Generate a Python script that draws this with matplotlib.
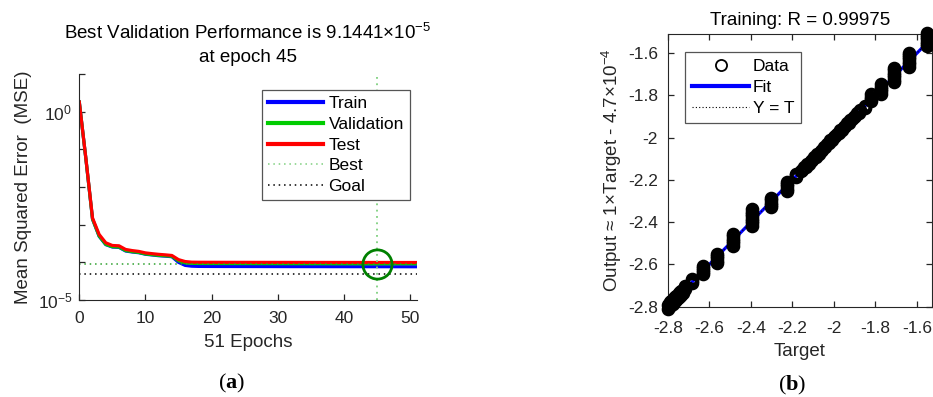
import matplotlib
matplotlib.use('Agg')
import matplotlib.pyplot as plt
from matplotlib.lines import Line2D

plt.rcParams['font.family'] = ['Liberation Sans', 'DejaVu Sans']
plt.rcParams['mathtext.fontset'] = 'custom'
plt.rcParams['mathtext.default'] = 'regular'
plt.rcParams['mathtext.rm'] = 'Liberation Sans'
plt.rcParams['mathtext.bf'] = 'Liberation Serif:bold'

# ---- performance curves (MSE per epoch) ----
epochs = list(range(52))
train_mse = [1.8, 5.5e-2, 1.4e-3, 4.9e-4, 2.95e-4, 2.55e-4, 2.5e-4, 2.0e-4, 1.88e-4, 1.8e-4,
             1.64e-4, 1.57e-4, 1.5e-4, 1.46e-4, 1.41e-4, 1.0e-4, 8.3e-5, 7.9e-5, 7.8e-5, 7.78e-5,
             7.77e-5, 7.76e-5, 7.75e-5, 7.75e-5, 7.74e-5, 7.74e-5, 7.73e-5, 7.73e-5, 7.72e-5, 7.72e-5,
             7.71e-5, 7.71e-5, 7.70e-5, 7.70e-5, 7.70e-5, 7.69e-5, 7.69e-5, 7.69e-5, 7.68e-5, 7.68e-5,
             7.68e-5, 7.67e-5, 7.67e-5, 7.67e-5, 7.66e-5, 7.66e-5, 7.66e-5, 7.65e-5, 7.65e-5, 7.65e-5,
             7.64e-5, 7.64e-5]
val_mse = [1.8, 5.5e-2, 1.4e-3, 5.0e-4, 3.0e-4, 2.6e-4, 2.55e-4, 2.05e-4, 1.92e-4, 1.83e-4,
           1.67e-4, 1.60e-4, 1.53e-4, 1.49e-4, 1.44e-4, 1.10e-4, 9.7e-5, 9.4e-5, 9.32e-5, 9.30e-5,
           9.29e-5, 9.28e-5, 9.27e-5, 9.26e-5, 9.25e-5, 9.25e-5, 9.24e-5, 9.23e-5, 9.22e-5, 9.22e-5,
           9.21e-5, 9.20e-5, 9.20e-5, 9.19e-5, 9.19e-5, 9.18e-5, 9.18e-5, 9.17e-5, 9.17e-5, 9.16e-5,
           9.16e-5, 9.155e-5, 9.152e-5, 9.149e-5, 9.146e-5, 9.1441e-5, 9.15e-5, 9.155e-5, 9.16e-5, 9.165e-5,
           9.17e-5, 9.175e-5]
test_mse = [1.8, 5.6e-2, 1.5e-3, 5.5e-4, 3.3e-4, 2.8e-4, 2.75e-4, 2.2e-4, 2.05e-4, 1.95e-4,
            1.78e-4, 1.70e-4, 1.63e-4, 1.58e-4, 1.52e-4, 1.18e-4, 1.05e-4, 1.01e-4, 1.005e-4, 1.003e-4,
            1.002e-4, 1.001e-4, 1.0e-4, 1.0e-4, 9.99e-5, 9.99e-5, 9.98e-5, 9.98e-5, 9.97e-5, 9.97e-5,
            9.96e-5, 9.96e-5, 9.95e-5, 9.95e-5, 9.95e-5, 9.94e-5, 9.94e-5, 9.94e-5, 9.93e-5, 9.93e-5,
            9.93e-5, 9.92e-5, 9.92e-5, 9.92e-5, 9.91e-5, 9.91e-5, 9.91e-5, 9.91e-5, 9.90e-5, 9.90e-5,
            9.90e-5, 9.90e-5]
best_epoch = 45
best_perf = 9.1441e-5
goal = 5e-5

# ---- regression (training set) ----
band_lo_t = [-2.800, -2.800, -2.794, -2.794, -2.788, -2.788, -2.782, -2.782, -2.776, -2.776,
             -2.770, -2.770, -2.764, -2.764, -2.758, -2.758, -2.752, -2.752, -2.746, -2.746,
             -2.740, -2.740, -2.734, -2.734, -2.728, -2.728]
band_lo_y = [-2.810, -2.792, -2.803, -2.785, -2.797, -2.779, -2.791, -2.773, -2.785, -2.767,
             -2.779, -2.761, -2.773, -2.755, -2.767, -2.749, -2.761, -2.743, -2.755, -2.737,
             -2.749, -2.731, -2.743, -2.725, -2.737, -2.719]
cluster_t = [-2.717, -2.681, -2.631, -2.564, -2.484, -2.392, -2.302, -2.227, -2.180,
             -1.850, -1.820, -1.772, -1.710, -1.640, -1.550]
cluster_y = [[-2.717, -2.708, -2.700],
             [-2.688, -2.678, -2.668],
             [-2.646, -2.636, -2.626, -2.616, -2.606],
             [-2.592, -2.582, -2.571, -2.561, -2.551],
             [-2.512, -2.500, -2.489, -2.478, -2.467, -2.456],
             [-2.418, -2.406, -2.395, -2.384, -2.372, -2.361, -2.350, -2.336],
             [-2.330, -2.318, -2.307, -2.296, -2.285],
             [-2.252, -2.241, -2.231, -2.221, -2.211],
             [-2.188, -2.179, -2.170],
             [-1.858, -1.848],
             [-1.826, -1.816, -1.806, -1.795],
             [-1.792, -1.781, -1.770, -1.759, -1.748],
             [-1.737, -1.725, -1.714, -1.703, -1.692, -1.680, -1.672],
             [-1.664, -1.652, -1.641, -1.630, -1.619, -1.608, -1.601],
             [-1.568, -1.557, -1.546, -1.535, -1.524, -1.513, -1.506]]
band_hi_t = [-2.160, -2.152, -2.144, -2.136, -2.128, -2.120, -2.112, -2.104, -2.096, -2.088,
             -2.080, -2.072, -2.064, -2.056, -2.048, -2.040, -2.032, -2.024, -2.016, -2.008,
             -2.000, -1.992, -1.984, -1.976, -1.968, -1.960, -1.952, -1.944, -1.936, -1.928,
             -1.920, -1.912, -1.904, -1.896, -1.888, -1.880, -1.872]
band_hi_y = [-2.156, -2.155, -2.141, -2.138, -2.124, -2.123, -2.109, -2.106, -2.093, -2.091,
             -2.076, -2.075, -2.061, -2.058, -2.044, -2.043, -2.029, -2.026, -2.012, -2.011,
             -1.996, -1.994, -1.981, -1.978, -1.964, -1.963, -1.949, -1.946, -1.932, -1.931,
             -1.917, -1.914, -1.900, -1.899, -1.884, -1.883, -1.868]
fit_slope = 1.0
fit_offset = -4.7e-4
r_value = 0.99975
ax_min, ax_max = -2.8, -1.515

W, H = 933, 397
fig = plt.figure(figsize=(W / 100, H / 100), dpi=100)

dark = '#262626'

# ---------- (a) performance ----------
ax1 = fig.add_axes([79.3 / W, 1 - 300 / H, 337.3 / W, 226 / H])
ax1.semilogy(epochs, train_mse, color='#0000ff', lw=2.3, label='Train')
ax1.semilogy(epochs, val_mse, color='#00cc00', lw=2.3, label='Validation')
ax1.semilogy(epochs, test_mse, color='#ff0000', lw=2.3, label='Test')
ax1.axvline(best_epoch, color='#7fd07f', ls=(0, (1, 2.5)), lw=1.3)
ax1.axhline(best_perf, color='#2ea02e', ls=(0, (1, 2.5)), lw=1.1)
ax1.axhline(goal, color='black', ls=(0, (1, 2.5)), lw=1.1)
ax1.plot([best_epoch], [best_perf], 'o', ms=21, mfc='none', mec='#008000', mew=2)
ax1.set_xlim(0, 51)
ax1.set_ylim(1e-5, 10)
ax1.set_xticks([0, 10, 20, 30, 40, 50])
dec = [1e-5, 1e-4, 1e-3, 1e-2, 1e-1, 1, 10]
ax1.set_yticks(dec)
ax1.set_yticklabels(['$10^{-5}$', '', '', '', '', '$10^{0}$', ''])
ax1.minorticks_off()
ax1.spines['top'].set_visible(False)
ax1.spines['right'].set_visible(False)
for s in ('left', 'bottom'):
    ax1.spines[s].set_color(dark)
ax1.tick_params(direction='in', length=4.5, width=0.9, colors=dark, labelsize=12.5)
ax1.tick_params(axis='x', pad=8)
ax1.tick_params(axis='y', pad=5)
ax1.set_xlabel('51 Epochs', fontsize=13.5, color=dark, labelpad=6)
ax1.set_ylabel('Mean Squared Error  (MSE)', fontsize=13.5, color=dark, labelpad=4)
ax1.set_title('Best Validation Performance is 9.1441\u00d710$^{-5}$\nat epoch 45',
              fontsize=13.5, linespacing=1.45, pad=9)
h1 = [Line2D([], [], color='#0000ff', lw=3),
      Line2D([], [], color='#00cc00', lw=3),
      Line2D([], [], color='#ff0000', lw=3),
      Line2D([], [], color='#7fd07f', ls=(0, (1, 2.5)), lw=1.1),
      Line2D([], [], color='black', ls=(0, (1, 2.5)), lw=1.1)]
leg1 = ax1.legend(h1, ['Train', 'Validation', 'Test', 'Best', 'Goal'],
                  loc='upper left', bbox_to_anchor=(0.541, 0.929), borderaxespad=0,
                  fontsize=12.5, handlelength=3.2, handletextpad=0.3, labelspacing=0.32,
                  borderpad=0.35, fancybox=False, framealpha=1, edgecolor='#555555')
leg1.get_frame().set_linewidth(0.9)

fig.text(232 / W, 1 - 383 / H, '(' + r'$\mathbf{a}$' + ')', family='Liberation Serif',
         fontsize=16, ha='center', va='center')

# ---------- (b) regression ----------
ax2 = fig.add_axes([667.7 / W, 1 - 306.7 / H, 264.3 / W, 273 / H])
ax2.plot([ax_min, ax_max], [fit_slope * ax_min + fit_offset, fit_slope * ax_max + fit_offset],
         color='#0000ff', lw=2.3, zorder=1)
ax2.plot([ax_min, ax_max], [ax_min, ax_max], color='black', ls=(0, (1, 2)), lw=0.8, zorder=1)
pts_t = list(band_lo_t) + list(band_hi_t)
pts_y = list(band_lo_y) + list(band_hi_y)
for t, ys in zip(cluster_t, cluster_y):
    for y in ys:
        pts_t.append(t)
        pts_y.append(y)
ax2.plot(pts_t, pts_y, 'o', ms=7.3, mfc='none', mec='black', mew=2.5, clip_on=False, zorder=3)
ax2.set_xlim(ax_min, -1.527)
ax2.set_ylim(ax_min, -1.508)
ticks = [-2.8, -2.6, -2.4, -2.2, -2.0, -1.8, -1.6]
tlabels = ['-2.8', '-2.6', '-2.4', '-2.2', '-2', '-1.8', '-1.6']
ax2.set_xticks(ticks)
ax2.set_xticklabels(tlabels)
ax2.set_yticks(ticks)
ax2.set_yticklabels(tlabels)
for s in ax2.spines.values():
    s.set_color(dark)
ax2.tick_params(direction='in', length=4.5, width=0.9, colors=dark, labelsize=12.5,
                top=True, right=True)
ax2.tick_params(axis='x', pad=10)
ax2.tick_params(axis='y', pad=7)
ax2.set_xlabel('Target', fontsize=13.5, color=dark, labelpad=5)
ax2.set_ylabel('Output \u2248 1\u00d7Target - 4.7\u00d710$^{-4}$', fontsize=13.5, color=dark,
               labelpad=3)
ax2.set_title('Training: R = %.5f' % r_value, fontsize=13.5, pad=6)
h2 = [Line2D([], [], ls='none', marker='o', ms=8, mfc='none', mec='black', mew=1.3),
      Line2D([], [], color='#0000ff', lw=3),
      Line2D([], [], color='black', ls=(0, (1, 2)), lw=0.8)]
leg2 = ax2.legend(h2, ['Data', 'Fit', 'Y = T'], loc='upper left',
                  bbox_to_anchor=(0.0655, 0.934), borderaxespad=0,
                  fontsize=12.5, handlelength=3.3, handletextpad=0.2, labelspacing=0.35,
                  borderpad=0.4, fancybox=False, framealpha=1, edgecolor='#555555')
leg2.get_frame().set_linewidth(0.9)

fig.text(792 / W, 1 - 385 / H, '(' + r'$\mathbf{b}$' + ')', family='Liberation Serif',
         fontsize=16, ha='center', va='center')

fig.savefig('out.png', dpi=100)
